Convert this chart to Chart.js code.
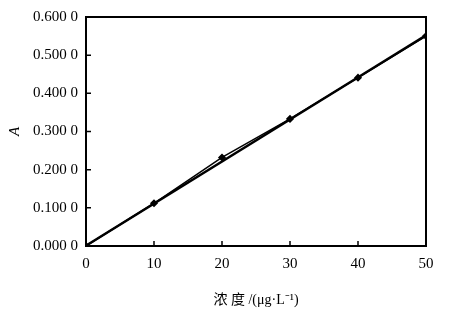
<!DOCTYPE html>
<html>
<head>
<meta charset="utf-8">
<script src="https://cdn.jsdelivr.net/npm/chart.js@4/dist/chart.umd.min.js"></script>
<style>
  html, body { margin: 0; padding: 0; background: #fff; }
  #wrap { width: 449px; height: 313px; }
</style>
</head>
<body>
<div id="wrap"><canvas id="chart"></canvas></div>
<script>
// concentration (ug/L) and absorbance readings
const concentrations = [0, 10, 20, 30, 40, 50];
const absorbance = [0.000, 0.112, 0.232, 0.333, 0.441, 0.550];
// fitted calibration line endpoints
const fitX = [0, 50];
const fitY = [0.001, 0.552];

const serif = "'Liberation Serif', 'Noto Sans CJK SC', serif";

// box round the plot and inward ticks
const frame = {
  id: 'frame',
  afterDraw(chart) {
    const { ctx, chartArea: a, scales } = chart;
    ctx.save();
    ctx.strokeStyle = '#000';
    ctx.lineWidth = 2;
    ctx.strokeRect(a.left, a.top, a.right - a.left, a.bottom - a.top);
    ctx.lineWidth = 1.5;
    ctx.beginPath();
    scales.x.ticks.forEach(t => {
      const px = scales.x.getPixelForValue(t.value);
      ctx.moveTo(px, a.bottom);
      ctx.lineTo(px, a.bottom - 5);
    });
    scales.y.ticks.forEach(t => {
      const py = scales.y.getPixelForValue(t.value);
      ctx.moveTo(a.left, py);
      ctx.lineTo(a.left + 5, py);
    });
    ctx.stroke();
    ctx.restore();
  }
};

new Chart(document.getElementById('chart'), {
  type: 'scatter',
  data: {
    datasets: [
      {
        label: 'fit',
        data: fitX.map((x, i) => ({ x: x, y: fitY[i] })),
        showLine: true,
        borderColor: '#000',
        borderWidth: 2.5,
        pointRadius: 0
      },
      {
        label: 'A',
        data: concentrations.map((x, i) => ({ x: x, y: absorbance[i] })),
        showLine: true,
        borderColor: '#000',
        borderWidth: 1.5,
        pointStyle: 'rectRot',
        pointRadius: 3,
        pointBackgroundColor: '#000',
        pointBorderColor: '#000'
      }
    ]
  },
  options: {
    responsive: true,
    maintainAspectRatio: false,
    animation: false,
    layout: { padding: { top: 14, right: 23, left: 0, bottom: 0 } },
    plugins: { legend: { display: false }, tooltip: { enabled: false } },
    scales: {
      x: {
        type: 'linear',
        min: 0,
        max: 50,
        ticks: { stepSize: 10, color: '#000', padding: 9, font: { family: serif, size: 15 } },
        grid: { display: false, drawTicks: false },
        border: { display: false },
        title: {
          display: true,
          text: '浓 度 /(μg·L⁻¹)',
          color: '#000',
          padding: { top: 14 },
          font: { family: serif, size: 14 }
        },
        afterFit(scale) { scale.height = 67; }
      },
      y: {
        min: 0,
        max: 0.6,
        ticks: {
          stepSize: 0.1,
          color: '#000',
          padding: 8,
          font: { family: serif, size: 15 },
          callback: v => v.toFixed(3) + ' 0'
        },
        grid: { display: false, drawTicks: false },
        border: { display: false },
        title: {
          display: true,
          text: 'A',
          color: '#000',
          padding: { top: 6, bottom: 4 },
          font: { family: serif, size: 15, style: 'italic' }
        },
        afterFit(scale) { scale.width = 86; }
      }
    }
  },
  plugins: [frame]
});
</script>
</body>
</html>
